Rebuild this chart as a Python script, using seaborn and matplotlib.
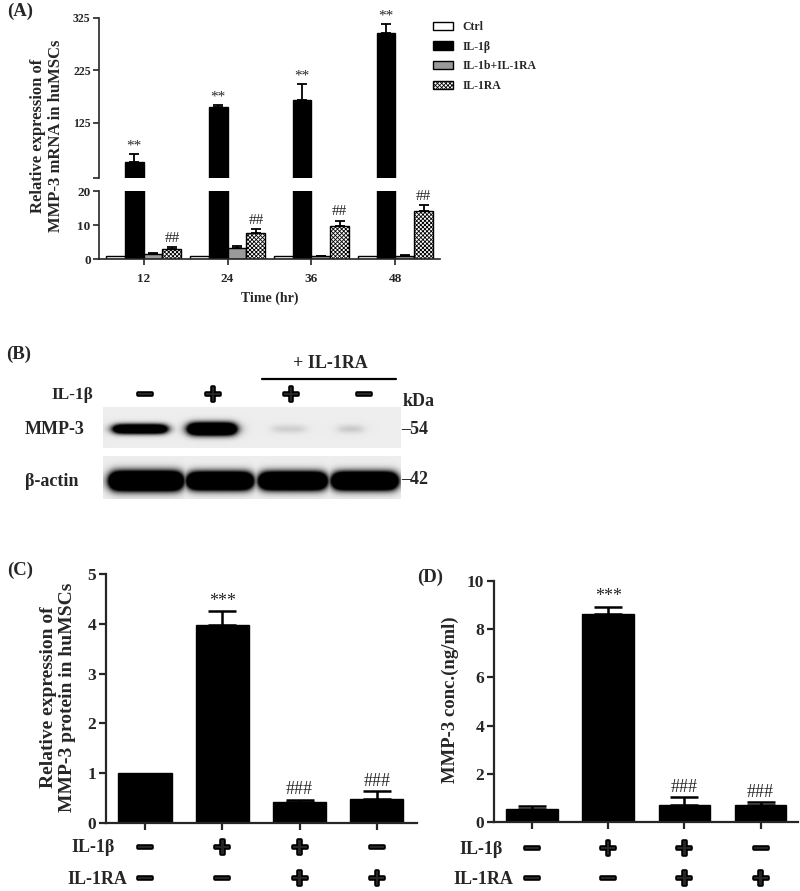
import numpy as np
import pandas as pd
import matplotlib
matplotlib.use('Agg')
import matplotlib.pyplot as plt
import seaborn as sns
from matplotlib.patches import Patch
from matplotlib.transforms import blended_transform_factory
import matplotlib.patheffects as pe

# ---------------- data ----------------
times = ['12', '24', '36', '48']
groups_a = ['Ctrl', 'IL-1β', 'IL-1b+IL-1RA', 'IL-1RA']
ctrl_vals = [1.0, 1.0, 1.0, 1.0]
ctrl_err = [0.0, 0.0, 0.0, 0.0]
il1b_vals = [51, 156, 169, 297]
il1b_err = [15, 4, 30, 17]
combo_vals = [1.4, 3.1, 0.9, 1.0]
combo_err = [0.25, 0.7, 0.1, 0.1]
ra_vals = [2.8, 7.7, 9.6, 14.0]
ra_err = [0.6, 1.0, 1.7, 2.0]
stars_a = '**'
hash_a = '##'

blot_il1b = ['−', '+', '+', '−']
mmp3_band = [0.85, 1.0, 0.05, 0.06]
actin_band = [1.0, 1.0, 1.0, 1.0]

conds = ['Ctrl', 'IL-1β', 'IL-1β+IL-1RA', 'IL-1RA']
il1b_signs = ['−', '+', '+', '−']
ra_signs = ['−', '−', '+', '+']
c_vals = [1.0, 3.98, 0.42, 0.48]
c_err = [0.0, 0.27, 0.05, 0.16]
c_marks = ['', '***', '###', '###']
d_vals = [0.52, 8.62, 0.69, 0.69]
d_err = [0.13, 0.31, 0.35, 0.12]
d_marks = ['', '***', '###', '###']

# ---------------- style ----------------
sns.set_style('ticks')
plt.rcParams['font.family'] = ['Liberation Serif', 'DejaVu Serif']
plt.rcParams['font.weight'] = 'bold'
plt.rcParams['hatch.linewidth'] = 0.6
plt.rcParams['axes.linewidth'] = 1.2

W, H = 800, 891
fig = plt.figure(figsize=(W / 100, H / 100), dpi=100)


def box(x0, y0, x1, y1):
    return [x0 / W, 1 - y1 / H, (x1 - x0) / W, (y1 - y0) / H]


sign_kw = dict(family='DejaVu Sans', fontweight='bold', fontsize=16, ha='center', va='center',
               path_effects=[pe.withStroke(linewidth=2.6, foreground='black')])

# overlay axes in pixel coordinates for free text and the blot
ov = fig.add_axes([0, 0, 1, 1], zorder=5)
ov.patch.set_alpha(0)
ov.axis('off')

# ---------------- Panel A ----------------
rows = []
for g, v in zip(groups_a, [ctrl_vals, il1b_vals, combo_vals, ra_vals]):
    for t, val in zip(times, v):
        rows.append((t, g, val))
df_a = pd.DataFrame(rows, columns=['time', 'group', 'value'])
pal_a = {'Ctrl': 'white', 'IL-1β': 'black', 'IL-1b+IL-1RA': '#9a9a9a', 'IL-1RA': 'white'}
errs_a = [ctrl_err, il1b_err, combo_err, ra_err]
HATCH = 'xxxxxxxx'

axA_top = fig.add_axes(box(99, 18, 440, 178))
axA_bot = fig.add_axes(box(99, 191, 440, 259))
for ax in (axA_top, axA_bot):
    sns.barplot(data=df_a, x='time', y='value', hue='group', hue_order=groups_a, order=times,
                palette=pal_a, width=0.9, edgecolor='black', linewidth=1.0, saturation=1,
                errorbar=None, legend=False, ax=ax)
    bar_conts = list(ax.containers)
    for i, cont in enumerate(bar_conts):
        xs = np.array([p.get_x() + p.get_width() / 2 for p in cont])
        hs = np.array([p.get_height() for p in cont])
        e = np.array(errs_a[i], dtype=float)
        m = e > 0
        if m.any():
            ax.errorbar(xs[m], hs[m], yerr=[np.zeros(m.sum()), e[m]], fmt='none', ecolor='black',
                        elinewidth=1.3, capsize=3.5, capthick=1.3)
        if i == 3:
            for p in cont:
                p.set_hatch(HATCH)
        if ax is axA_top and i == 1:
            for x, h, ee in zip(xs, hs, e):
                ax.annotate(stars_a, (x, h + ee), xytext=(0, 1), textcoords='offset points',
                            ha='center', va='bottom', fontsize=11, fontweight='normal')
        if ax is axA_bot and i == 3:
            for x, h, ee in zip(xs, hs, e):
                ax.annotate(hash_a, (x, h + ee), xytext=(0, 1.5), textcoords='offset points',
                            ha='center', va='bottom', fontsize=11, fontweight='normal')
    ax.set_xlim(-0.53, 3.53)
    ax.set_ylabel('')
    ax.set_xlabel('')
    sns.despine(ax=ax)

axA_top.set_ylim(20, 325)
axA_top.set_yticks([20, 125, 225, 325])
axA_top.set_yticklabels(['', '125', '225', '325'])
axA_top.spines['bottom'].set_visible(False)
axA_top.tick_params(axis='x', bottom=False, labelbottom=False)
axA_top.tick_params(axis='y', labelsize=8.5, length=4, width=1.2, pad=2)
axA_bot.set_ylim(0, 20)
axA_bot.set_yticks([0, 10, 20])
axA_bot.tick_params(axis='y', labelsize=9.5, length=4, width=1.2, pad=2)
axA_bot.tick_params(axis='x', labelsize=9.5, length=4, width=1.2, pad=6)
axA_bot.set_xlabel('Time (hr)', fontsize=10, fontweight='bold', labelpad=5)

handles = [Patch(facecolor=pal_a[g], edgecolor='black', linewidth=1.0,
                 hatch=HATCH if g == 'IL-1RA' else None) for g in groups_a]
fig.legend(handles, groups_a, loc='upper left', bbox_to_anchor=(433 / W, 1 - 21 / H),
           frameon=False, fontsize=8.5, handlelength=1.7, handleheight=0.7, handletextpad=0.8,
           labelspacing=0.65, borderpad=0, borderaxespad=0)

ov.text(7, 11, '(A)', fontsize=13.5, fontweight='bold', ha='left', va='center')
ov.text(47, 136, 'Relative expression of\nMMP-3 mRNA in huMSCs', rotation=90, ha='center',
        va='center', fontsize=12, fontweight='bold', linespacing=1.15, multialignment='center')

# ---------------- Panel B (western blot) ----------------
lane_x = [145, 213, 291, 364]


def blot_strip(x0, x1, y0, y1, centers, intens, cy, sy, hw, gain, bg):
    xs = np.linspace(x0, x1, int((x1 - x0) * 2))
    ys = np.linspace(y0, y1, int((y1 - y0) * 2))
    X, Y = np.meshgrid(xs, ys)
    dark = np.zeros_like(X)
    for cx, I, h, s in zip(centers, intens, hw, sy):
        fx = 1 / (1 + np.exp((np.abs(X - cx) - h) / 3.0))
        fy = np.exp(-0.5 * ((Y - cy) / s) ** 2)
        dark = np.maximum(dark, I * gain * fx * fy)
    img = bg * (1 - np.clip(dark, 0, 1))
    ov.imshow(img, extent=(x0, x1, y1, y0), cmap='gray', vmin=0, vmax=1, aspect='auto',
              interpolation='bilinear')


blot_strip(103, 401, 407, 448, [140, 212, 289, 351], mmp3_band, 429,
           [3.3, 4.3, 3.0, 3.0], [26, 23, 16, 12], 2.6, 0.93)
blot_strip(103, 401, 456, 499, [146, 220, 293, 365], actin_band, 481,
           [6.3, 5.8, 5.8, 5.8], [35, 31, 32, 31], 3.2, 0.93)

ov.text(6, 354, '(B)', fontsize=13.5, fontweight='bold', ha='left', va='center')
ov.text(330, 364, '+ IL-1RA', fontsize=13, fontweight='bold', ha='center', va='center')
ov.plot([262, 396], [379, 379], color='black', lw=1.6)
ov.text(51, 395, 'IL-1β', fontsize=12.5, fontweight='bold', ha='left', va='center')
for x, s in zip(lane_x, blot_il1b):
    ov.text(x, 395, s, **sign_kw)
ov.text(403, 402, 'kDa', fontsize=13, fontweight='bold', ha='left', va='center')
ov.text(25, 429, 'MMP-3', fontsize=13, fontweight='bold', ha='left', va='center')
ov.text(401, 430, '–54', fontsize=13, fontweight='bold', ha='left', va='center')
ov.text(25, 481, 'β-actin', fontsize=13, fontweight='bold', ha='left', va='center')
ov.text(401, 480, '–42', fontsize=13, fontweight='bold', ha='left', va='center')


# ---------------- Panels C and D ----------------
def bar_panel(rect, vals, errs, marks, ylim, yticks, xlim, width, sign_y, lab_right):
    ax = fig.add_axes(rect)
    df = pd.DataFrame({'cond': conds, 'value': vals})
    sns.barplot(data=df, x='cond', y='value', order=conds, color='black', saturation=1,
                width=width, errorbar=None, edgecolor='black', ax=ax)
    cont = ax.containers[0]
    xs = np.array([p.get_x() + p.get_width() / 2 for p in cont])
    hs = np.array([p.get_height() for p in cont])
    e = np.array(errs, dtype=float)
    m = e > 0
    ax.errorbar(xs[m], hs[m], yerr=[np.zeros(m.sum()), e[m]], fmt='none', ecolor='black',
                elinewidth=1.8, capsize=10, capthick=1.8)
    for x, h, ee, mk in zip(xs, hs, e, marks):
        if mk:
            ax.annotate(mk, (x, h + ee), xytext=(0, 1), textcoords='offset points',
                        ha='center', va='bottom', fontsize=13, fontweight='normal')
    ax.set_ylim(*ylim)
    ax.set_yticks(yticks)
    ax.set_xlim(*xlim)
    ax.set_xticks(range(len(conds)))
    ax.set_xticklabels([])
    ax.set_xlabel('')
    ax.set_ylabel('')
    sns.despine(ax=ax)
    for sp in ('left', 'bottom'):
        ax.spines[sp].set_linewidth(1.6)
    ax.tick_params(axis='y', labelsize=12.5, length=5, width=1.6, pad=2)
    ax.tick_params(axis='x', length=5, width=1.6)
    tr = blended_transform_factory(ax.transData, ov.transData)
    for i in range(len(conds)):
        ov.text(i, sign_y[0], il1b_signs[i], transform=tr, **sign_kw)
        ov.text(i, sign_y[1], ra_signs[i], transform=tr, **sign_kw)
    ov.text(lab_right[0], sign_y[0], 'IL-1β', fontsize=13, fontweight='bold', ha='right', va='center')
    ov.text(lab_right[1], sign_y[1], 'IL-1RA', fontsize=13, fontweight='bold', ha='right', va='center')
    return ax


axC = bar_panel(box(106, 574, 417, 823), c_vals, c_err, c_marks, (0, 5), range(0, 6),
                (-0.505, 3.52), 0.69, (848, 879), (115, 127))
axD = bar_panel(box(494, 581, 798, 822), d_vals, d_err, d_marks, (0, 10), range(0, 11, 2),
                (-0.498, 3.49), 0.675, (849, 879), (503, 513))

ov.text(7, 570, '(C)', fontsize=13.5, fontweight='bold', ha='left', va='center')
ov.text(58, 697, 'Relative expression of\nMMP-3 protein in huMSCs', rotation=90, ha='center',
        va='center', fontsize=14, fontweight='bold', linespacing=1.15, multialignment='center')
ov.text(417, 577, '(D)', fontsize=13.5, fontweight='bold', ha='left', va='center')
ov.text(450, 700, 'MMP-3 conc.(ng/ml)', rotation=90, ha='center', va='center',
        fontsize=13.5, fontweight='bold')

ov.set_xlim(0, W)
ov.set_ylim(H, 0)

fig.savefig('out.png', dpi=100)
